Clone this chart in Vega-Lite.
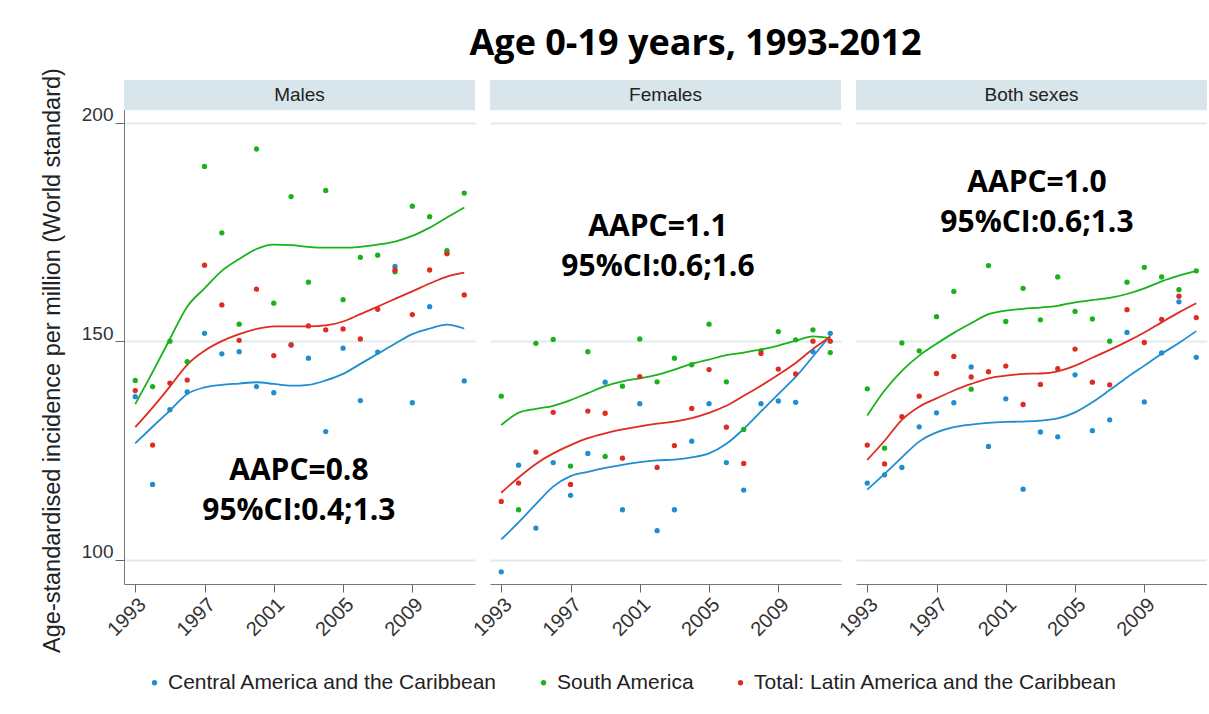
{
"$schema":"https://vega.github.io/schema/vega-lite/v6.json",
"background":"white",
"padding":{"left":40,"top":25,"right":0,"bottom":0},
"bounds":"flush",
"spacing":15,
"title":{"text":"Age 0-19 years, 1993-2012","font":"Open Sans","fontWeight":"bold","fontSize":36,"color":"#000","anchor":"middle","offset":5,"dx":72},
"datasets":{"d":[
{"sex":"Males","region":"C","year":1993,"rate":137.3,"fit":126.6},{"sex":"Males","region":"C","year":1994,"rate":117.2,"fit":130.4},{"sex":"Males","region":"C","year":1995,"rate":134.3,"fit":134.1},{"sex":"Males","region":"C","year":1996,"rate":138.4,"fit":137.9},{"sex":"Males","region":"C","year":1997,"rate":151.8,"fit":139.4},{"sex":"Males","region":"C","year":1998,"rate":147.1,"fit":140.0},{"sex":"Males","region":"C","year":1999,"rate":147.6,"fit":140.3},{"sex":"Males","region":"C","year":2000,"rate":139.6,"fit":140.6},{"sex":"Males","region":"C","year":2001,"rate":138.2,"fit":140.2},{"sex":"Males","region":"C","year":2002,"rate":149.2,"fit":139.8},{"sex":"Males","region":"C","year":2003,"rate":146.1,"fit":140.0},{"sex":"Males","region":"C","year":2004,"rate":129.3,"fit":141.0},{"sex":"Males","region":"C","year":2005,"rate":148.4,"fit":142.5},{"sex":"Males","region":"C","year":2006,"rate":136.4,"fit":144.8},{"sex":"Males","region":"C","year":2007,"rate":147.5,"fit":147.1},{"sex":"Males","region":"C","year":2008,"rate":167.1,"fit":149.4},{"sex":"Males","region":"C","year":2009,"rate":135.9,"fit":151.6},{"sex":"Males","region":"C","year":2010,"rate":157.9,"fit":152.9},{"sex":"Males","region":"C","year":2011,"rate":170.1,"fit":153.8},{"sex":"Males","region":"C","year":2012,"rate":140.9,"fit":152.9},
{"sex":"Males","region":"S","year":1993,"rate":141.0,"fit":135.6},{"sex":"Males","region":"S","year":1994,"rate":139.6,"fit":142.9},{"sex":"Males","region":"S","year":1995,"rate":150.0,"fit":150.5},{"sex":"Males","region":"S","year":1996,"rate":145.3,"fit":157.9},{"sex":"Males","region":"S","year":1997,"rate":190.0,"fit":162.1},{"sex":"Males","region":"S","year":1998,"rate":174.8,"fit":166.1},{"sex":"Males","region":"S","year":1999,"rate":153.9,"fit":168.8},{"sex":"Males","region":"S","year":2000,"rate":194.0,"fit":171.1},{"sex":"Males","region":"S","year":2001,"rate":158.7,"fit":172.1},{"sex":"Males","region":"S","year":2002,"rate":183.1,"fit":172.0},{"sex":"Males","region":"S","year":2003,"rate":163.5,"fit":171.6},{"sex":"Males","region":"S","year":2004,"rate":184.5,"fit":171.4},{"sex":"Males","region":"S","year":2005,"rate":159.5,"fit":171.4},{"sex":"Males","region":"S","year":2006,"rate":169.2,"fit":171.6},{"sex":"Males","region":"S","year":2007,"rate":169.7,"fit":172.1},{"sex":"Males","region":"S","year":2008,"rate":165.9,"fit":172.8},{"sex":"Males","region":"S","year":2009,"rate":180.9,"fit":174.1},{"sex":"Males","region":"S","year":2010,"rate":178.5,"fit":176.0},{"sex":"Males","region":"S","year":2011,"rate":170.7,"fit":178.3},{"sex":"Males","region":"S","year":2012,"rate":183.9,"fit":180.6},
{"sex":"Males","region":"T","year":1993,"rate":138.7,"fit":130.3},{"sex":"Males","region":"T","year":1994,"rate":126.2,"fit":134.8},{"sex":"Males","region":"T","year":1995,"rate":140.4,"fit":139.6},{"sex":"Males","region":"T","year":1996,"rate":141.1,"fit":144.6},{"sex":"Males","region":"T","year":1997,"rate":167.4,"fit":147.8},{"sex":"Males","region":"T","year":1998,"rate":158.3,"fit":150.0},{"sex":"Males","region":"T","year":1999,"rate":150.2,"fit":151.6},{"sex":"Males","region":"T","year":2000,"rate":161.9,"fit":152.8},{"sex":"Males","region":"T","year":2001,"rate":146.7,"fit":153.4},{"sex":"Males","region":"T","year":2002,"rate":149.1,"fit":153.4},{"sex":"Males","region":"T","year":2003,"rate":153.5,"fit":153.4},{"sex":"Males","region":"T","year":2004,"rate":152.6,"fit":153.6},{"sex":"Males","region":"T","year":2005,"rate":152.8,"fit":154.5},{"sex":"Males","region":"T","year":2006,"rate":150.5,"fit":156.2},{"sex":"Males","region":"T","year":2007,"rate":157.3,"fit":157.9},{"sex":"Males","region":"T","year":2008,"rate":166.3,"fit":159.7},{"sex":"Males","region":"T","year":2009,"rate":156.1,"fit":161.4},{"sex":"Males","region":"T","year":2010,"rate":166.3,"fit":163.2},{"sex":"Males","region":"T","year":2011,"rate":170.0,"fit":164.8},{"sex":"Males","region":"T","year":2012,"rate":160.6,"fit":165.7},
{"sex":"Females","region":"C","year":1993,"rate":97.2,"fit":104.6},{"sex":"Females","region":"C","year":1994,"rate":121.6,"fit":108.5},{"sex":"Females","region":"C","year":1995,"rate":107.2,"fit":112.7},{"sex":"Females","region":"C","year":1996,"rate":122.2,"fit":116.7},{"sex":"Females","region":"C","year":1997,"rate":114.7,"fit":119.1},{"sex":"Females","region":"C","year":1998,"rate":124.3,"fit":120.1},{"sex":"Females","region":"C","year":1999,"rate":140.6,"fit":121.0},{"sex":"Females","region":"C","year":2000,"rate":111.4,"fit":121.7},{"sex":"Females","region":"C","year":2001,"rate":135.7,"fit":122.3},{"sex":"Females","region":"C","year":2002,"rate":106.6,"fit":122.7},{"sex":"Females","region":"C","year":2003,"rate":111.4,"fit":122.9},{"sex":"Females","region":"C","year":2004,"rate":127.1,"fit":123.4},{"sex":"Females","region":"C","year":2005,"rate":135.7,"fit":124.3},{"sex":"Females","region":"C","year":2006,"rate":122.2,"fit":126.5},{"sex":"Females","region":"C","year":2007,"rate":115.9,"fit":129.9},{"sex":"Females","region":"C","year":2008,"rate":135.7,"fit":133.9},{"sex":"Females","region":"C","year":2009,"rate":136.3,"fit":137.9},{"sex":"Females","region":"C","year":2010,"rate":136.0,"fit":141.8},{"sex":"Females","region":"C","year":2011,"rate":147.6,"fit":146.5},{"sex":"Females","region":"C","year":2012,"rate":151.8,"fit":151.3},
{"sex":"Females","region":"S","year":1993,"rate":137.4,"fit":130.8},{"sex":"Females","region":"S","year":1994,"rate":111.4,"fit":133.6},{"sex":"Females","region":"S","year":1995,"rate":149.5,"fit":134.5},{"sex":"Females","region":"S","year":1996,"rate":150.4,"fit":135.2},{"sex":"Females","region":"S","year":1997,"rate":121.4,"fit":136.5},{"sex":"Females","region":"S","year":1998,"rate":147.6,"fit":138.1},{"sex":"Females","region":"S","year":1999,"rate":123.6,"fit":139.7},{"sex":"Females","region":"S","year":2000,"rate":139.7,"fit":140.8},{"sex":"Females","region":"S","year":2001,"rate":150.5,"fit":141.5},{"sex":"Females","region":"S","year":2002,"rate":140.7,"fit":142.3},{"sex":"Females","region":"S","year":2003,"rate":146.1,"fit":143.5},{"sex":"Females","region":"S","year":2004,"rate":144.6,"fit":144.8},{"sex":"Females","region":"S","year":2005,"rate":153.9,"fit":145.8},{"sex":"Females","region":"S","year":2006,"rate":140.7,"fit":146.8},{"sex":"Females","region":"S","year":2007,"rate":129.8,"fit":147.4},{"sex":"Females","region":"S","year":2008,"rate":147.8,"fit":148.1},{"sex":"Females","region":"S","year":2009,"rate":152.2,"fit":149.0},{"sex":"Females","region":"S","year":2010,"rate":150.3,"fit":150.1},{"sex":"Females","region":"S","year":2011,"rate":152.6,"fit":151.1},{"sex":"Females","region":"S","year":2012,"rate":147.4,"fit":150.7},
{"sex":"Females","region":"T","year":1993,"rate":113.3,"fit":115.3},{"sex":"Females","region":"T","year":1994,"rate":117.5,"fit":118.8},{"sex":"Females","region":"T","year":1995,"rate":124.6,"fit":121.9},{"sex":"Females","region":"T","year":1996,"rate":133.7,"fit":124.3},{"sex":"Females","region":"T","year":1997,"rate":117.2,"fit":126.2},{"sex":"Females","region":"T","year":1998,"rate":134.0,"fit":127.8},{"sex":"Females","region":"T","year":1999,"rate":133.5,"fit":128.9},{"sex":"Females","region":"T","year":2000,"rate":123.2,"fit":129.8},{"sex":"Females","region":"T","year":2001,"rate":141.9,"fit":130.5},{"sex":"Females","region":"T","year":2002,"rate":121.1,"fit":131.1},{"sex":"Females","region":"T","year":2003,"rate":126.1,"fit":131.6},{"sex":"Females","region":"T","year":2004,"rate":134.6,"fit":132.4},{"sex":"Females","region":"T","year":2005,"rate":143.5,"fit":133.6},{"sex":"Females","region":"T","year":2006,"rate":130.3,"fit":135.2},{"sex":"Females","region":"T","year":2007,"rate":122.0,"fit":137.5},{"sex":"Females","region":"T","year":2008,"rate":147.2,"fit":139.8},{"sex":"Females","region":"T","year":2009,"rate":143.6,"fit":142.3},{"sex":"Females","region":"T","year":2010,"rate":142.5,"fit":145.0},{"sex":"Females","region":"T","year":2011,"rate":150.0,"fit":148.2},{"sex":"Females","region":"T","year":2012,"rate":150.0,"fit":151.0},
{"sex":"Both sexes","region":"C","year":1993,"rate":117.5,"fit":116.0},{"sex":"Both sexes","region":"C","year":1994,"rate":119.4,"fit":119.6},{"sex":"Both sexes","region":"C","year":1995,"rate":121.1,"fit":123.4},{"sex":"Both sexes","region":"C","year":1996,"rate":130.4,"fit":127.0},{"sex":"Both sexes","region":"C","year":1997,"rate":133.6,"fit":129.1},{"sex":"Both sexes","region":"C","year":1998,"rate":135.9,"fit":130.3},{"sex":"Both sexes","region":"C","year":1999,"rate":144.1,"fit":130.9},{"sex":"Both sexes","region":"C","year":2000,"rate":125.9,"fit":131.3},{"sex":"Both sexes","region":"C","year":2001,"rate":136.8,"fit":131.5},{"sex":"Both sexes","region":"C","year":2002,"rate":116.1,"fit":131.6},{"sex":"Both sexes","region":"C","year":2003,"rate":129.2,"fit":131.8},{"sex":"Both sexes","region":"C","year":2004,"rate":128.1,"fit":132.3},{"sex":"Both sexes","region":"C","year":2005,"rate":142.3,"fit":133.7},{"sex":"Both sexes","region":"C","year":2006,"rate":129.5,"fit":136.0},{"sex":"Both sexes","region":"C","year":2007,"rate":132.0,"fit":138.8},{"sex":"Both sexes","region":"C","year":2008,"rate":152.0,"fit":141.7},{"sex":"Both sexes","region":"C","year":2009,"rate":136.1,"fit":144.4},{"sex":"Both sexes","region":"C","year":2010,"rate":147.3,"fit":147.1},{"sex":"Both sexes","region":"C","year":2011,"rate":159.0,"fit":149.6},{"sex":"Both sexes","region":"C","year":2012,"rate":146.3,"fit":152.3},
{"sex":"Both sexes","region":"S","year":1993,"rate":139.1,"fit":133.0},{"sex":"Both sexes","region":"S","year":1994,"rate":125.5,"fit":138.7},{"sex":"Both sexes","region":"S","year":1995,"rate":149.6,"fit":143.2},{"sex":"Both sexes","region":"S","year":1996,"rate":147.8,"fit":146.7},{"sex":"Both sexes","region":"S","year":1997,"rate":155.6,"fit":149.4},{"sex":"Both sexes","region":"S","year":1998,"rate":161.4,"fit":151.9},{"sex":"Both sexes","region":"S","year":1999,"rate":139.0,"fit":154.1},{"sex":"Both sexes","region":"S","year":2000,"rate":167.3,"fit":156.2},{"sex":"Both sexes","region":"S","year":2001,"rate":154.5,"fit":157.0},{"sex":"Both sexes","region":"S","year":2002,"rate":162.1,"fit":157.4},{"sex":"Both sexes","region":"S","year":2003,"rate":154.9,"fit":157.7},{"sex":"Both sexes","region":"S","year":2004,"rate":164.7,"fit":158.1},{"sex":"Both sexes","region":"S","year":2005,"rate":156.8,"fit":158.9},{"sex":"Both sexes","region":"S","year":2006,"rate":155.1,"fit":159.4},{"sex":"Both sexes","region":"S","year":2007,"rate":150.0,"fit":159.9},{"sex":"Both sexes","region":"S","year":2008,"rate":163.5,"fit":160.8},{"sex":"Both sexes","region":"S","year":2009,"rate":166.9,"fit":162.1},{"sex":"Both sexes","region":"S","year":2010,"rate":164.7,"fit":163.7},{"sex":"Both sexes","region":"S","year":2011,"rate":161.8,"fit":165.0},{"sex":"Both sexes","region":"S","year":2012,"rate":166.1,"fit":166.1},
{"sex":"Both sexes","region":"T","year":1993,"rate":126.2,"fit":122.8},{"sex":"Both sexes","region":"T","year":1994,"rate":121.9,"fit":127.2},{"sex":"Both sexes","region":"T","year":1995,"rate":132.7,"fit":132.0},{"sex":"Both sexes","region":"T","year":1996,"rate":137.4,"fit":135.0},{"sex":"Both sexes","region":"T","year":1997,"rate":142.6,"fit":136.9},{"sex":"Both sexes","region":"T","year":1998,"rate":146.5,"fit":138.7},{"sex":"Both sexes","region":"T","year":1999,"rate":141.8,"fit":140.2},{"sex":"Both sexes","region":"T","year":2000,"rate":143.0,"fit":141.5},{"sex":"Both sexes","region":"T","year":2001,"rate":144.3,"fit":142.1},{"sex":"Both sexes","region":"T","year":2002,"rate":135.5,"fit":142.5},{"sex":"Both sexes","region":"T","year":2003,"rate":140.1,"fit":142.6},{"sex":"Both sexes","region":"T","year":2004,"rate":143.7,"fit":143.1},{"sex":"Both sexes","region":"T","year":2005,"rate":148.2,"fit":144.4},{"sex":"Both sexes","region":"T","year":2006,"rate":140.6,"fit":146.2},{"sex":"Both sexes","region":"T","year":2007,"rate":140.0,"fit":148.0},{"sex":"Both sexes","region":"T","year":2008,"rate":157.2,"fit":149.9},{"sex":"Both sexes","region":"T","year":2009,"rate":149.7,"fit":152.0},{"sex":"Both sexes","region":"T","year":2010,"rate":155.0,"fit":154.3},{"sex":"Both sexes","region":"T","year":2011,"rate":160.3,"fit":156.6},{"sex":"Both sexes","region":"T","year":2012,"rate":155.4,"fit":158.7}
]},
"data":{"name":"d"},
"hconcat":[
{"width":351,"height":504,
 "layer":[
  {"data":{"values":[{}]},"mark":{"type":"rect","color":"#d8e5eb"},
   "encoding":{"x":{"datum":1992.35,"type":"quantitative","scale":{"domain":[1992.35,2012.62],"nice":false,"zero":false}},"x2":{"datum":2012.62},"y":{"datum":202.9,"type":"quantitative","scale":{"domain":[94.4,209.8],"nice":false,"zero":false}},"y2":{"datum":209.8}}},
  {"data":{"values":[{}]},"mark":{"type":"text","text":"Males","font":"Liberation Sans","fontSize":19,"color":"#222","align":"center","baseline":"middle"},
   "encoding":{"x":{"datum":2002.485,"type":"quantitative"},"y":{"datum":206.35,"type":"quantitative"}}},
  {"transform":[{"filter":"datum.sex == 'Males'"}],"mark":{"type":"line","interpolate":"monotone","strokeWidth":1.8},
   "encoding":{"x":{"field":"year","type":"quantitative","axis":{"values":[1993,1994,1995,1996,1997,1998,1999,2000,2001,2002,2003,2004,2005,2006,2007,2008,2009,2010,2011,2012],"format":"d","labelExpr":"(datum.value - 1993) % 4 == 0 ? datum.label : ''","title":null}},
    "y":{"field":"fit","type":"quantitative","axis":{"values":[100,150,200],"title":"Age-standardised incidence per million (World standard)","titleX":-65,"titleY":280,"titleBaseline":"alphabetic","titleAngle":-90}},
    "color":{"field":"region","type":"nominal","scale":{"domain":["C","S","T"],"range":["#1f8dd0","#19b219","#e02a22"]},"legend":{"title":null,"labelExpr":"datum.label == 'C' ? 'Central America and the Caribbean' : datum.label == 'S' ? 'South America' : 'Total: Latin America and the Caribbean'"}}}},
  {"transform":[{"filter":"datum.sex == 'Males'"}],"mark":{"type":"point","filled":true,"size":28,"opacity":1},
   "encoding":{"x":{"field":"year","type":"quantitative","axis":{"values":[1993,1994,1995,1996,1997,1998,1999,2000,2001,2002,2003,2004,2005,2006,2007,2008,2009,2010,2011,2012],"format":"d","labelExpr":"(datum.value - 1993) % 4 == 0 ? datum.label : ''","title":null}},
    "y":{"field":"rate","type":"quantitative","axis":{"values":[100,150,200],"title":"Age-standardised incidence per million (World standard)","titleX":-65,"titleY":280,"titleBaseline":"alphabetic","titleAngle":-90}},
    "color":{"field":"region","type":"nominal","scale":{"domain":["C","S","T"],"range":["#1f8dd0","#19b219","#e02a22"]},"legend":{"title":null,"labelExpr":"datum.label == 'C' ? 'Central America and the Caribbean' : datum.label == 'S' ? 'South America' : 'Total: Latin America and the Caribbean'"}}}},
  {"data":{"values":[{}]},"mark":{"type":"text","text":["AAPC=0.8","95%CI:0.4;1.3"],"font":"Open Sans","fontWeight":"bold","fontSize":30,"lineHeight":40,"color":"#000","align":"center","baseline":"middle"},
   "encoding":{"x":{"datum":2002.45,"type":"quantitative"},"y":{"datum":120.3,"type":"quantitative"}}}
 ]},
{"width":351,"height":504,
 "layer":[
  {"data":{"values":[{}]},"mark":{"type":"rect","color":"#d8e5eb"},
   "encoding":{"x":{"datum":1992.35,"type":"quantitative","scale":{"domain":[1992.35,2012.62],"nice":false,"zero":false}},"x2":{"datum":2012.62},"y":{"datum":202.9,"type":"quantitative","scale":{"domain":[94.4,209.8],"nice":false,"zero":false}},"y2":{"datum":209.8}}},
  {"data":{"values":[{}]},"mark":{"type":"text","text":"Females","font":"Liberation Sans","fontSize":19,"color":"#222","align":"center","baseline":"middle"},
   "encoding":{"x":{"datum":2002.485,"type":"quantitative"},"y":{"datum":206.35,"type":"quantitative"}}},
  {"transform":[{"filter":"datum.sex == 'Females'"}],"mark":{"type":"line","interpolate":"monotone","strokeWidth":1.8},
   "encoding":{"x":{"field":"year","type":"quantitative","axis":{"values":[1993,1994,1995,1996,1997,1998,1999,2000,2001,2002,2003,2004,2005,2006,2007,2008,2009,2010,2011,2012],"format":"d","labelExpr":"(datum.value - 1993) % 4 == 0 ? datum.label : ''","title":null}},
    "y":{"field":"fit","type":"quantitative","axis":{"values":[100,150,200],"title":null,"labels":false,"ticks":false,"domain":false}},
    "color":{"field":"region","type":"nominal","legend":{"title":null,"labelExpr":"datum.label == 'C' ? 'Central America and the Caribbean' : datum.label == 'S' ? 'South America' : 'Total: Latin America and the Caribbean'"}}}},
  {"transform":[{"filter":"datum.sex == 'Females'"}],"mark":{"type":"point","filled":true,"size":28,"opacity":1},
   "encoding":{"x":{"field":"year","type":"quantitative","axis":{"values":[1993,1994,1995,1996,1997,1998,1999,2000,2001,2002,2003,2004,2005,2006,2007,2008,2009,2010,2011,2012],"format":"d","labelExpr":"(datum.value - 1993) % 4 == 0 ? datum.label : ''","title":null}},
    "y":{"field":"rate","type":"quantitative","axis":{"values":[100,150,200],"title":null,"labels":false,"ticks":false,"domain":false}},
    "color":{"field":"region","type":"nominal","legend":{"title":null,"labelExpr":"datum.label == 'C' ? 'Central America and the Caribbean' : datum.label == 'S' ? 'South America' : 'Total: Latin America and the Caribbean'"}}}},
  {"data":{"values":[{}]},"mark":{"type":"text","text":["AAPC=1.1","95%CI:0.6;1.6"],"font":"Open Sans","fontWeight":"bold","fontSize":30,"lineHeight":40,"color":"#000","align":"center","baseline":"middle"},
   "encoding":{"x":{"datum":2002.05,"type":"quantitative"},"y":{"datum":176.2,"type":"quantitative"}}}
 ]},
{"width":351,"height":504,
 "layer":[
  {"data":{"values":[{}]},"mark":{"type":"rect","color":"#d8e5eb"},
   "encoding":{"x":{"datum":1992.35,"type":"quantitative","scale":{"domain":[1992.35,2012.62],"nice":false,"zero":false}},"x2":{"datum":2012.62},"y":{"datum":202.9,"type":"quantitative","scale":{"domain":[94.4,209.8],"nice":false,"zero":false}},"y2":{"datum":209.8}}},
  {"data":{"values":[{}]},"mark":{"type":"text","text":"Both sexes","font":"Liberation Sans","fontSize":19,"color":"#222","align":"center","baseline":"middle"},
   "encoding":{"x":{"datum":2002.485,"type":"quantitative"},"y":{"datum":206.35,"type":"quantitative"}}},
  {"transform":[{"filter":"datum.sex == 'Both sexes'"}],"mark":{"type":"line","interpolate":"monotone","strokeWidth":1.8},
   "encoding":{"x":{"field":"year","type":"quantitative","axis":{"values":[1993,1994,1995,1996,1997,1998,1999,2000,2001,2002,2003,2004,2005,2006,2007,2008,2009,2010,2011,2012],"format":"d","labelExpr":"(datum.value - 1993) % 4 == 0 ? datum.label : ''","title":null}},
    "y":{"field":"fit","type":"quantitative","axis":{"values":[100,150,200],"title":null,"labels":false,"ticks":false,"domain":false}},
    "color":{"field":"region","type":"nominal","legend":{"title":null,"labelExpr":"datum.label == 'C' ? 'Central America and the Caribbean' : datum.label == 'S' ? 'South America' : 'Total: Latin America and the Caribbean'"}}}},
  {"transform":[{"filter":"datum.sex == 'Both sexes'"}],"mark":{"type":"point","filled":true,"size":28,"opacity":1},
   "encoding":{"x":{"field":"year","type":"quantitative","axis":{"values":[1993,1994,1995,1996,1997,1998,1999,2000,2001,2002,2003,2004,2005,2006,2007,2008,2009,2010,2011,2012],"format":"d","labelExpr":"(datum.value - 1993) % 4 == 0 ? datum.label : ''","title":null}},
    "y":{"field":"rate","type":"quantitative","axis":{"values":[100,150,200],"title":null,"labels":false,"ticks":false,"domain":false}},
    "color":{"field":"region","type":"nominal","legend":{"title":null,"labelExpr":"datum.label == 'C' ? 'Central America and the Caribbean' : datum.label == 'S' ? 'South America' : 'Total: Latin America and the Caribbean'"}}}},
  {"data":{"values":[{}]},"mark":{"type":"text","text":["AAPC=1.0","95%CI:0.6;1.3"],"font":"Open Sans","fontWeight":"bold","fontSize":30,"lineHeight":40,"color":"#000","align":"center","baseline":"middle"},
   "encoding":{"x":{"datum":2002.8,"type":"quantitative"},"y":{"datum":186.3,"type":"quantitative"}}}
 ]}
],
"resolve":{"scale":{"color":"shared"},"legend":{"color":"shared"}},
"config":{
 "view":{"stroke":null},
 "axisX":{"labelFont":"Liberation Sans","labelFontSize":20,"labelColor":"#333","labelAngle":-45,"labelPadding":2,"labelOverlap":false,"tickSize":8,"tickColor":"#666","domainColor":"#777","grid":false},
 "axisY":{"labelFont":"Liberation Sans","labelFontSize":19,"labelColor":"#333","labelPadding":2,"labelBaseline":"alphabetic","labelOffset":-2,"tickSize":9,"tickColor":"#666","domainColor":"#777","grid":true,"gridColor":"#e2ece9","gridWidth":2,"titleFont":"Liberation Sans","titleFontSize":23.5,"titleFontWeight":"normal","titleColor":"#222"},
 "legend":{"orient":"none","legendX":20,"legendY":592,"direction":"horizontal","labelFont":"Liberation Sans","labelFontSize":21,"labelColor":"#222","symbolSize":28,"symbolType":"circle","symbolStrokeWidth":0,"labelOffset":3,"columnPadding":35,"labelLimit":500}
}
}
